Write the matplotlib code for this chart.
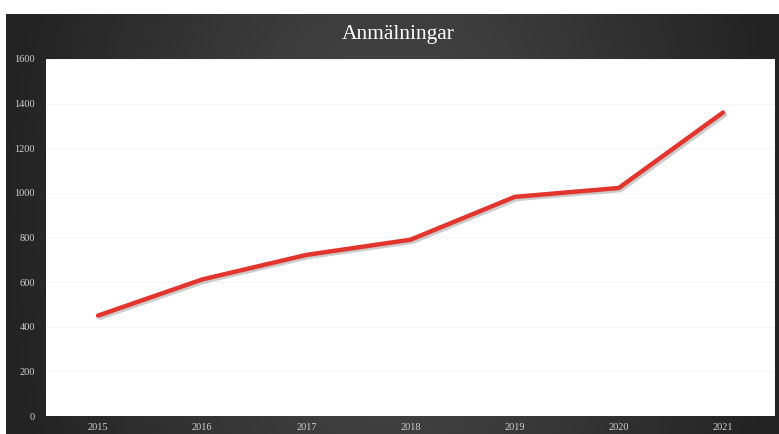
import numpy as np
import matplotlib
matplotlib.use("Agg")
import matplotlib.pyplot as plt
import matplotlib.patheffects as pe

# data
years = ['2015', '2016', '2017', '2018', '2019', '2020', '2021']
anmalningar = [450, 612, 722, 790, 982, 1022, 1360]
title = 'Anmälningar'

plt.rcParams['font.family'] = ['Liberation Serif', 'DejaVu Serif']

W, H = 779, 434
fig = plt.figure(figsize=(W / 100, H / 100), dpi=100)
fig.patch.set_facecolor('white')

# dark radial gradient backdrop, lighter in the middle
bg = fig.add_axes([6 / W, 0, (W - 6) / W, (H - 14) / H])
bg.set_axis_off()
yy, xx = np.mgrid[-1:1:300j, -1:1:500j]
r = np.sqrt(xx ** 2 + (yy * 0.35) ** 2)
shade = 0.30 - 0.16 * np.clip(r, 0, 1)
img = np.dstack([shade, shade, shade])
bg.imshow(img, aspect='auto', extent=[0, 1, 0, 1])

# plot area
left, top, right, bottom = 46, 59, 775, 416
ax = fig.add_axes([left / W, 1 - bottom / H, (right - left) / W, (bottom - top) / H])
ax.set_facecolor('white')
x = np.arange(len(years))
ax.plot(x, anmalningar, color='#e2352d', lw=3.2, solid_capstyle='round',
        path_effects=[pe.SimpleLineShadow(offset=(1.5, -1.5), shadow_color='k', alpha=0.2),
                      pe.Normal()])
ax.set_xlim(-0.5, len(years) - 0.5)
ax.set_ylim(0, 1600)
ax.set_yticks(range(0, 1601, 200))
ax.set_xticks(x)
ax.set_xticklabels(years)
ax.yaxis.grid(True, color='#f5f5f5', lw=0.8)
ax.set_axisbelow(True)
for s in ax.spines.values():
    s.set_visible(False)
ax.tick_params(length=0, colors='#d0d0d0', labelsize=7.5)
ax.tick_params(axis='y', pad=8)
ax.tick_params(axis='x', pad=5)

fig.text(398 / W, 1 - 34 / H, title, color='white', fontsize=15.5,
         ha='center', va='center')

fig.savefig('out.png', dpi=100)
